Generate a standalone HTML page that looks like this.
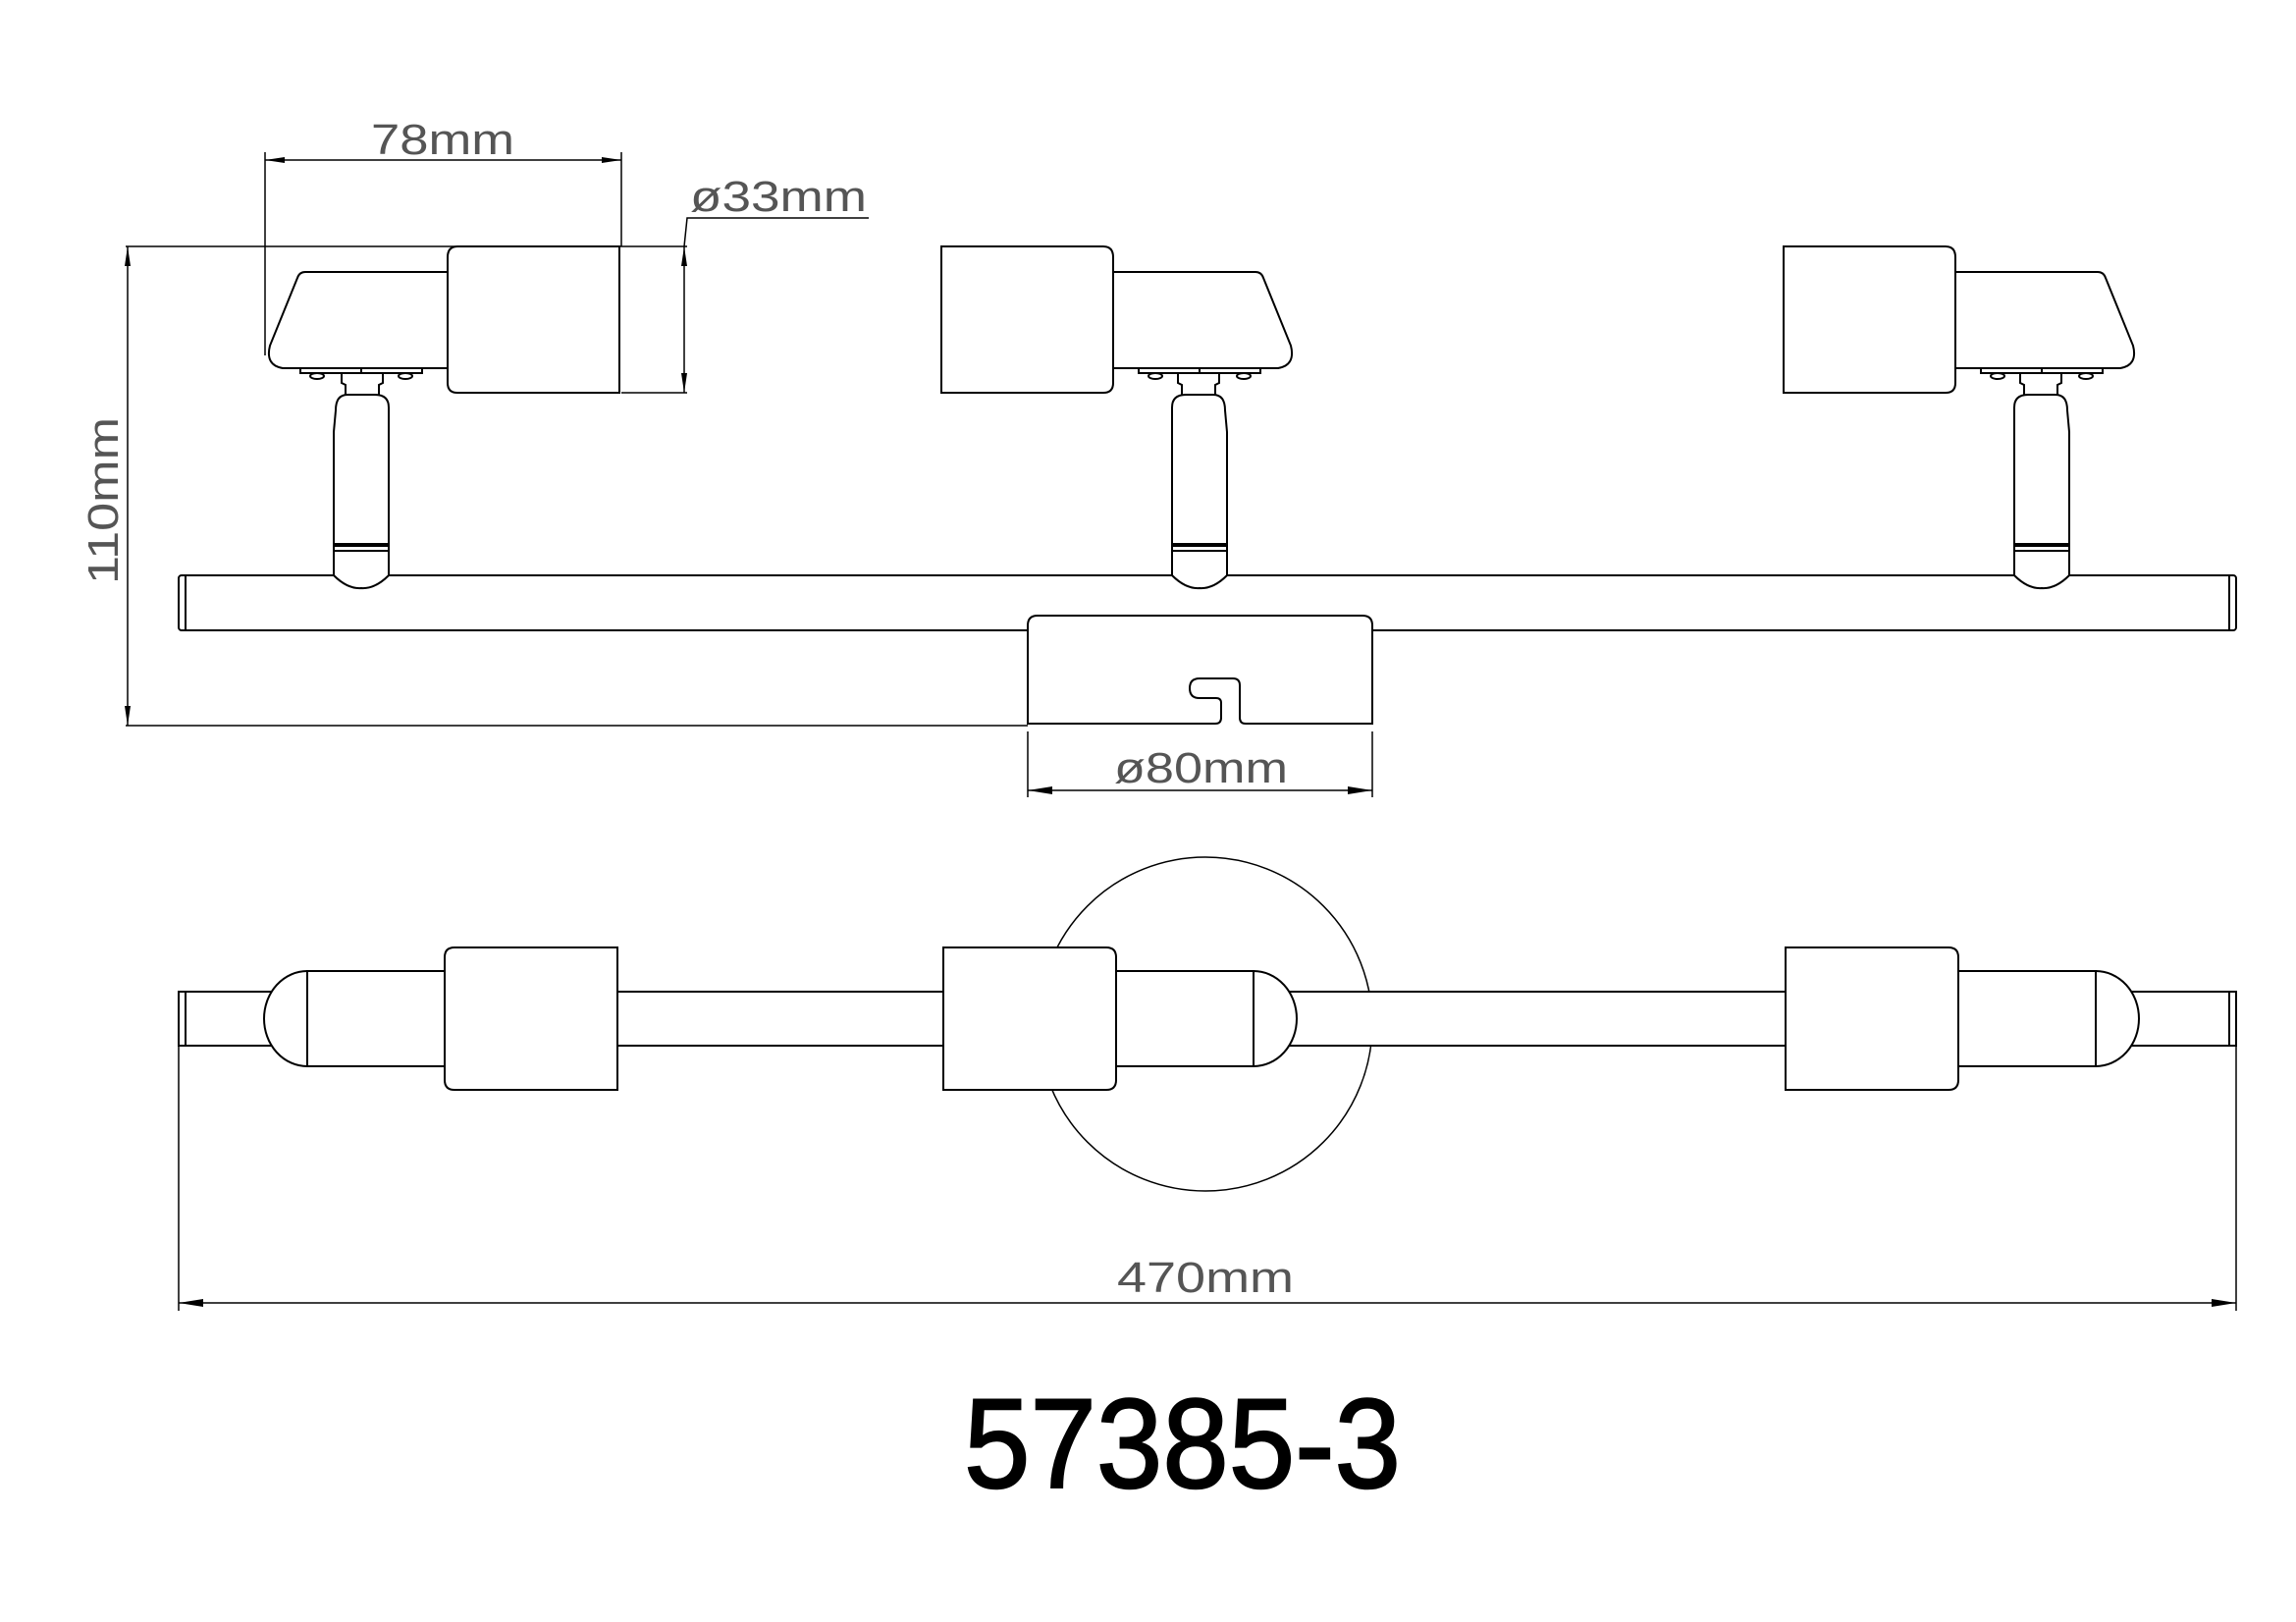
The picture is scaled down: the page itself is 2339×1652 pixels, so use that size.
<!DOCTYPE html>
<html><head><meta charset="utf-8"><style>
html,body{margin:0;padding:0;background:#fff;}
svg{display:block;}
text{font-family:"Liberation Sans",sans-serif;}
</style></head><body>
<svg width="2339" height="1652" viewBox="0 0 2339 1652" xmlns="http://www.w3.org/2000/svg">
<defs>
<g id="spotR" fill="#fff" stroke="#000" stroke-width="2">
  <path d="M1992,277 L2137,277 Q2143,277 2145,283 L2173,352 Q2178,372 2160,375 L1992,375 Z"/>
  <path d="M1817,251 L1982,251 Q1992,251 1992,262 L1992,390 Q1992,400 1982,400 L1817,400 Z"/>
  <rect x="2018" y="375" width="124" height="5"/>
  <line x1="2080" y1="375" x2="2080" y2="380"/>
  <ellipse cx="2035" cy="383" rx="7" ry="3"/>
  <ellipse cx="2125" cy="383" rx="7" ry="3"/>
  <path d="M2058,380 L2058,390 L2062,392 L2062,402 M2100,380 L2100,390 L2096,392 L2096,402" fill="none"/>
  <path d="M2052,586 L2052,415 Q2052,402 2066,402 L2094,402 Q2106,402 2106,418 L2108,440 L2108,586 Q2094,600 2080,599 Q2066,600 2052,586 Z"/>
  <line x1="2052" y1="555" x2="2108" y2="555" stroke-width="4"/>
  <line x1="2052" y1="561" x2="2108" y2="561"/>
</g>
<g id="botR" fill="#fff" stroke="#000" stroke-width="2">
  <path d="M2135,989 A44,48.5 0 0 1 2135,1086 Z"/>
  <rect x="1995" y="989" width="140" height="97"/>
  <path d="M1819,965 L1985,965 Q1995,965 1995,975 L1995,1100 Q1995,1110 1985,1110 L1819,1110 Z"/>
</g>
</defs>

<rect x="182" y="586" width="2096" height="56" rx="3" fill="#fff" stroke="#000" stroke-width="2"/>
<line x1="189" y1="586" x2="189" y2="642" stroke="#000" stroke-width="2"/>
<line x1="2271" y1="586" x2="2271" y2="642" stroke="#000" stroke-width="2"/>

<use href="#spotR"/>
<use href="#spotR" transform="translate(-858,0)"/>
<use href="#spotR" transform="translate(2448,0) scale(-1,1)"/>

<path d="M1047,737 L1047,637 Q1047,627 1057,627 L1388,627 Q1398,627 1398,637 L1398,737 L1269,737 Q1263,737 1263,731 L1263,698 Q1263,691 1256,691 L1222,691 Q1212,691 1212,701 Q1212,711 1222,711 L1239,711 Q1244,711 1244,716 L1244,731 Q1244,737 1238,737 Z" fill="#fff" stroke="#000" stroke-width="2"/>

<g stroke="#000" stroke-width="1.5" fill="none">
  <line x1="270" y1="155" x2="270" y2="362"/>
  <line x1="633" y1="155" x2="633" y2="251"/>
  <line x1="270" y1="163" x2="633" y2="163"/>
  <line x1="128" y1="251" x2="700" y2="251"/>
  <line x1="130" y1="251" x2="130" y2="739"/>
  <line x1="128" y1="739" x2="1047" y2="739"/>
  <line x1="697" y1="251" x2="697" y2="400"/>
  <line x1="633" y1="400" x2="700" y2="400"/>
  <polyline points="697,251 700,222 885,222"/>
  <line x1="1047" y1="745" x2="1047" y2="812"/>
  <line x1="1398" y1="745" x2="1398" y2="812"/>
  <line x1="1047" y1="805" x2="1398" y2="805"/>
  <line x1="182" y1="1065" x2="182" y2="1335"/>
  <line x1="2278" y1="1065" x2="2278" y2="1335"/>
  <line x1="182" y1="1327" x2="2278" y2="1327"/>
</g>
<g fill="#000">
  <path d="M270,163 L290,160 L290,166 Z"/><path d="M633,163 L613,160 L613,166 Z"/>
  <path d="M130,251 L127,271 L133,271 Z"/><path d="M130,739 L127,719 L133,719 Z"/>
  <path d="M697,251 L694,271 L700,271 Z"/><path d="M697,400 L694,380 L700,380 Z"/>
  <path d="M1047,805 L1072,801 L1072,809 Z"/><path d="M1398,805 L1373,801 L1373,809 Z"/>
  <path d="M182,1327 L207,1323 L207,1331 Z"/><path d="M2278,1327 L2253,1323 L2253,1331 Z"/>
</g>

<circle cx="1228" cy="1043" r="170" fill="#fff" stroke="#000" stroke-width="1.5"/>
<rect x="182" y="1010" width="2096" height="55" fill="#fff" stroke="#000" stroke-width="2"/>
<line x1="189" y1="1010" x2="189" y2="1065" stroke="#000" stroke-width="2"/>
<line x1="2271" y1="1010" x2="2271" y2="1065" stroke="#000" stroke-width="2"/>
<use href="#botR"/>
<use href="#botR" transform="translate(-858,0)"/>
<use href="#botR" transform="translate(2448,0) scale(-1,1)"/>

<g fill="#555" font-size="44">
  <text x="451" y="157" text-anchor="middle" textLength="146" lengthAdjust="spacingAndGlyphs">78mm</text>
  <text x="703" y="215" textLength="180" lengthAdjust="spacingAndGlyphs">ø33mm</text>
  <text x="1135" y="797" textLength="177" lengthAdjust="spacingAndGlyphs">ø80mm</text>
  <text x="1138" y="1316" textLength="180" lengthAdjust="spacingAndGlyphs">470mm</text>
  <text transform="translate(120,510) rotate(-90)" text-anchor="middle" textLength="170" lengthAdjust="spacingAndGlyphs">110mm</text>
</g>
<text x="982" y="1515" font-size="130" fill="#000" stroke="#000" stroke-width="2" textLength="445" lengthAdjust="spacingAndGlyphs">57385-3</text>
</svg>
</body></html>
